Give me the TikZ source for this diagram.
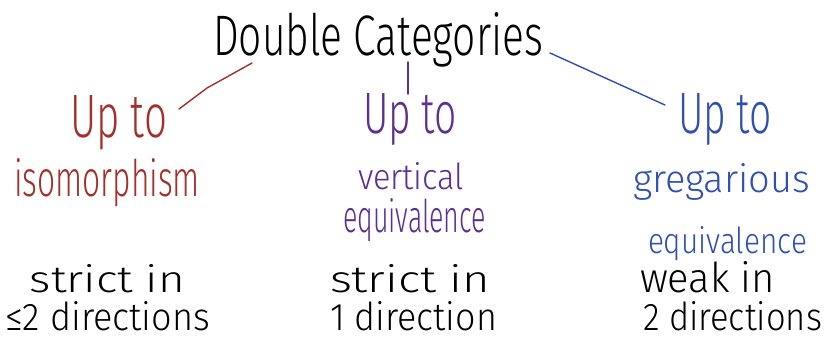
\documentclass[tikz,border=0pt]{standalone}
\usepackage{fontspec}
\setmainfont{Fira Sans}[UprightFont=* Light]
\usepackage{graphicx}
\definecolor{hwred}{HTML}{A3302B}
\definecolor{hwpurple}{HTML}{5E2E91}
\definecolor{hwblue}{HTML}{3050B0}
\newcommand\hw[3]{\resizebox{#1pt}{#2pt}{\fontsize{20}{20}\selectfont #3}}
\begin{document}
\begin{tikzpicture}[x=1pt,y=-1pt,
  lbl/.style={inner sep=0pt,outer sep=0pt,anchor=base west},
  link/.style={line width=1.4pt,line cap=round,line join=round}]
\useasboundingbox (0,0) rectangle (827,338);
% title
\node[lbl] (title) at (213,55) {\hw{330}{43}{Double Categories}};
% red column
\node[lbl,text=hwred] (rup) at (70,137) {\hw{97}{42}{Up to}};
\node[lbl,text=hwred] (riso) at (14,196) {\hw{186}{38}{isomorphism}};
% purple column
\node[lbl,text=hwpurple] (pup) at (363,133) {\hw{94}{40}{Up to}};
\node[lbl,text=hwpurple] (pvert) at (358,189) {\hw{106}{27}{vertical}};
\node[lbl,text=hwpurple] (peq) at (343,232) {\hw{143}{34}{equivalence}};
% blue column
\node[lbl,text=hwblue] (bup) at (678,133) {\hw{94}{40}{Up to}};
\node[lbl,text=hwblue] (bgreg) at (633,192) {\hw{177}{29}{gregarious}};
\node[lbl,text=hwblue] (beq) at (648,253) {\hw{159}{27}{equivalence}};
% bottom rows
\node[lbl] (s1) at (30,292) {\hw{155}{28}{strict in}};
\node[lbl] (d1) at (5,330) {\hw{205}{29}{≤2 directions}};
\node[lbl] (s2) at (330,292) {\hw{160}{28}{strict in}};
\node[lbl] (d2) at (330,330) {\hw{167}{29}{1 direction}};
\node[lbl] (s3) at (640,292) {\hw{135}{31}{weak in}};
\node[lbl] (d3) at (643,330) {\hw{179}{29}{2 directions}};
% connectors
\coordinate (rA) at (252,63);
\coordinate (rK) at (207,88);
\coordinate (rB) at (179,109);
\coordinate (pA) at (408,62);
\coordinate (pB) at (408,94);
\coordinate (bA) at (550,53);
\coordinate (bB) at (665,105);
\draw[link,hwred] (rA) -- (rK) -- (rB);
\draw[link,hwpurple] (pA) -- (pB);
\draw[link,hwblue] (bA) -- (bB);
\end{tikzpicture}
\end{document}
